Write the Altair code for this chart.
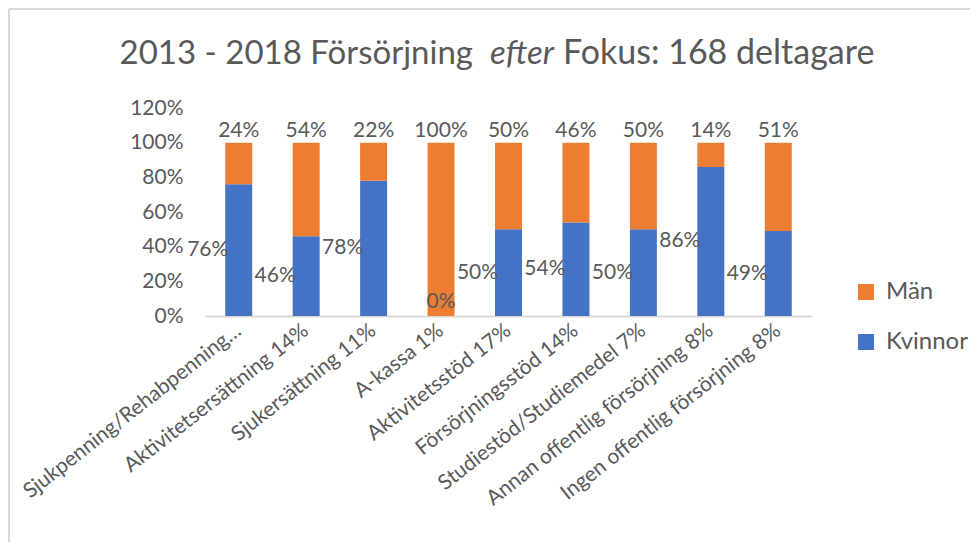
import altair as alt
import pandas as pd

categories = [
    "Sjukpenning/Rehabpenning…",
    "Aktivitetsersättning 14%",
    "Sjukersättning 11%",
    "A-kassa 1%",
    "Aktivitetsstöd 17%",
    "Försörjningsstöd 14%",
    "Studiestöd/Studiemedel 7%",
    "Annan offentlig försörjning 8%",
    "Ingen offentlig försörjning 8%",
]
kvinnor = [0.76, 0.46, 0.78, 0.00, 0.50, 0.54, 0.50, 0.86, 0.49]
man = [0.24, 0.54, 0.22, 1.00, 0.50, 0.46, 0.50, 0.14, 0.51]
series = ["Män", "Kvinnor"]
colors = ["#ED7D31", "#4472C4"]
y_ticks = [0, 0.2, 0.4, 0.6, 0.8, 1.0, 1.2]
title_parts = ["2013 - 2018 Försörjning", "efter", "Fokus: 168 deltagare"]

rows = []
for i, c in enumerate(categories):
    rows.append({"kat": c, "serie": "Kvinnor", "v": kvinnor[i], "ord": 0})
    rows.append({"kat": c, "serie": "Män", "v": man[i], "ord": 1})
df = pd.DataFrame(rows)

FONT = "Lato"
GREY = "#595959"
FS = 21
XFS = 21
TFS = 33

xscale = alt.Scale(paddingInner=0.6, paddingOuter=0.3)
xaxis = alt.Axis(
    title=None, labelAngle=-38, labelAlign="right", labelBaseline="middle",
    labelPadding=12, ticks=False, domainColor="#D9D9D9", domainWidth=2,
    labelLimit=500, labelFontSize=XFS, labelColor=GREY, labelFont=FONT,
    labelOverlap=False,
)
yscale = alt.Scale(domain=[0, 1.2], nice=False)
yaxis = alt.Axis(
    title=None, values=y_ticks, format=".0%", grid=False, domain=False,
    ticks=False, labelPadding=22, labelFontSize=FS, labelColor=GREY,
    labelFont=FONT, labelOverlap=False,
)
xenc = alt.X("kat:N", sort=categories, scale=xscale, axis=xaxis)

base = alt.Chart(df)

bars = base.mark_bar().encode(
    x=xenc,
    y=alt.Y("v:Q", stack="zero", scale=yscale, axis=yaxis),
    color=alt.Color(
        "serie:N",
        scale=alt.Scale(domain=series, range=colors),
        legend=alt.Legend(
            title=None, orient="none", legendX=649, legendY=172,
            symbolType="square", symbolSize=256, symbolStrokeWidth=0,
            labelFontSize=24, labelColor=GREY, labelFont=FONT,
            rowPadding=26, labelOffset=8,
        ),
    ),
    order=alt.Order("ord:Q"),
)

kv_labels = base.transform_filter(
    (alt.datum.serie == "Kvinnor") & (alt.datum.v > 0)
).transform_calculate(mid="datum.v / 2").mark_text(
    dx=-31, baseline="middle", align="center", font=FONT, fontSize=FS, color=GREY
).encode(x=xenc, y=alt.Y("mid:Q", scale=yscale, axis=yaxis), text=alt.Text("v:Q", format=".0%"))

kv_zero = base.transform_filter(
    (alt.datum.serie == "Kvinnor") & (alt.datum.v == 0)
).mark_text(
    dy=-14, baseline="middle", align="center", font=FONT, fontSize=FS, color=GREY
).encode(x=xenc, y=alt.Y("v:Q", scale=yscale, axis=yaxis), text=alt.Text("v:Q", format=".0%"))

man_labels = base.transform_joinaggregate(
    total="sum(v)", groupby=["kat"]
).transform_filter(alt.datum.serie == "Män").mark_text(
    dy=-12, baseline="middle", align="center", font=FONT, fontSize=FS, color=GREY
).encode(x=xenc, y=alt.Y("total:Q", scale=yscale, axis=yaxis), text=alt.Text("v:Q", format=".0%"))

tdf = pd.DataFrame({"t": title_parts})
t1 = alt.Chart(tdf).transform_filter(alt.datum.t == title_parts[0]).mark_text(
    align="right", baseline="alphabetic", font=FONT, fontSize=TFS, color=GREY
).encode(text="t:N", x=alt.value(268), y=alt.value(-44))
t2 = alt.Chart(tdf).transform_filter(alt.datum.t == title_parts[1]).mark_text(
    align="center", baseline="alphabetic", font=FONT, fontSize=TFS, fontStyle="italic", color=GREY
).encode(text="t:N", x=alt.value(317), y=alt.value(-44))
t3 = alt.Chart(tdf).transform_filter(alt.datum.t == title_parts[2]).mark_text(
    align="left", baseline="alphabetic", font=FONT, fontSize=TFS + 1, color=GREY
).encode(text="t:N", x=alt.value(358), y=alt.value(-44))

frame_df = pd.DataFrame({"f": [0]})
frame_left = alt.Chart(frame_df).mark_rule(color="#D9D9D9", strokeWidth=2).encode(
    x=alt.value(-196), y=alt.value(-99), y2=alt.value(440)
)
frame_top = alt.Chart(frame_df).mark_rule(color="#D9D9D9", strokeWidth=2).encode(
    x=alt.value(-196), x2=alt.value(780), y=alt.value(-99)
)

chart = alt.layer(frame_left, frame_top, bars, kv_labels, kv_zero, man_labels, t1, t2, t3).properties(
    width=607, height=208,
    autosize=alt.AutoSizeParams(type="none"),
    padding={"left": 197, "top": 100, "right": 158, "bottom": 226},
).configure(background="white").configure_view(strokeWidth=0, stroke="transparent")

chart.save("out.html", embed_options={"renderer": "svg", "actions": False})
